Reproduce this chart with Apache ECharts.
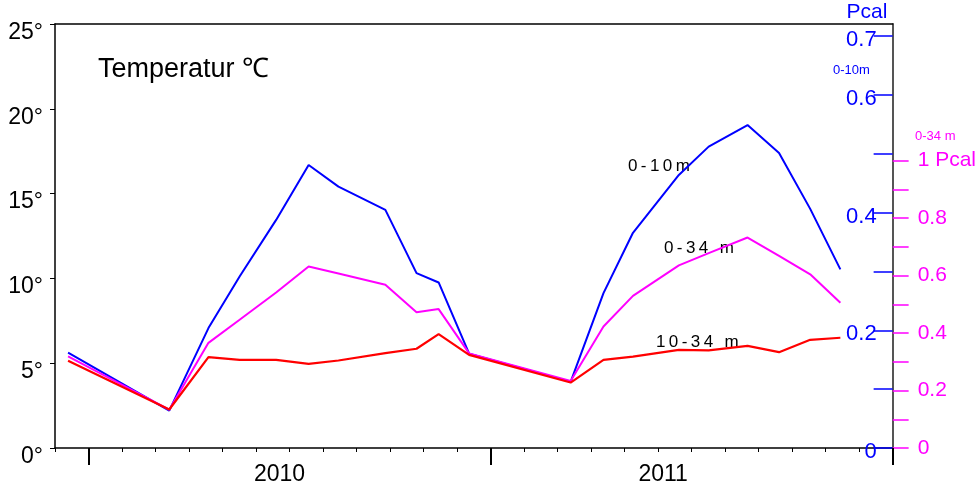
<!DOCTYPE html>
<html>
<head>
<meta charset="utf-8">
<script src="https://cdn.jsdelivr.net/npm/echarts@6/dist/echarts.min.js"></script>
<style>
  html, body { margin: 0; padding: 0; background: #fff; }
  #chart { width: 979px; height: 488px; }
</style>
</head>
<body>
<div id="chart"></div>
<script>
// Sampling dates, in months counted from the start of January 2010
const sampleMonth = [-0.61, 2.41, 3.58, 4.51, 5.60, 6.57, 7.46, 8.86, 9.79, 10.45, 11.36,
                     14.39, 15.37, 16.25, 17.62, 18.51, 19.67, 20.61, 21.54, 22.44];

// Mean water temperature (°C) per depth layer
const temp0to10  = [5.63, 2.20, 7.07, 10.11, 13.45, 16.69, 15.41, 14.04, 10.31, 9.76, 5.56,
                    3.90, 9.13, 12.69, 16.10, 17.77, 19.04, 17.40, 14.10, 10.53];
const temp0to34  = [5.40, 2.26, 6.20, 7.56, 9.17, 10.70, 10.29, 9.62, 8.01, 8.19, 5.58,
                    3.95, 7.16, 8.97, 10.77, 11.49, 12.41, 11.33, 10.24, 8.56];
const temp10to34 = [5.14, 2.27, 5.36, 5.20, 5.20, 4.96, 5.16, 5.59, 5.85, 6.71, 5.49,
                    3.86, 5.20, 5.39, 5.79, 5.76, 6.02, 5.65, 6.38, 6.50];

// Axis ticks and labels
const tempTicks = [0, 5, 10, 15, 20, 25];
const yearLabels = ['2010', '2011'];
const yearTicks = [0, 12, 24];
const pcal10Ticks = [0, 0.1, 0.2, 0.3, 0.4, 0.5, 0.6, 0.7];
const pcal10Labels = [0, 0.2, 0.4, 0.6, 0.7];
const pcal34Ticks = [0, 0.1, 0.2, 0.3, 0.4, 0.5, 0.6, 0.7, 0.8, 0.9, 1];
const pcal34Labels = [0, 0.2, 0.4, 0.6, 0.8, 1];

const FONT = '"Liberation Sans", Arial, sans-serif';
const BLUE = '#0000ff', PINK = '#ff00ff', RED = '#ff0000';

const pairs = (ys) => sampleMonth.map((m, i) => [m, ys[i]]);

const chart = echarts.init(document.getElementById('chart'), null, { renderer: 'canvas' });

chart.setOption({
  animation: false,
  backgroundColor: '#fff',
  grid: { left: 55, right: 83, top: 24, bottom: 40, containLabel: false },
  xAxis: [
    { // monthly ticks
      type: 'value', min: -1, max: 24, interval: 1, position: 'bottom',
      axisLine: { onZero: false, lineStyle: { color: '#000', width: 1.5 } },
      axisTick: { length: 4, lineStyle: { color: '#000', width: 1 } },
      axisLabel: { show: false },
      splitLine: { show: false }
    },
    { // year boundaries and year names
      type: 'value', min: -1, max: 24, position: 'bottom',
      axisLine: { show: false, onZero: false },
      axisTick: { customValues: yearTicks, length: 17, lineStyle: { color: '#000', width: 2 } },
      axisLabel: {
        customValues: [5.7, 17.15], margin: 15,
        formatter: (v) => yearLabels[v < 12 ? 0 : 1],
        fontFamily: FONT, fontSize: 23, color: '#000'
      },
      splitLine: { show: false }
    },
    { // top frame
      type: 'value', min: -1, max: 24, position: 'top',
      axisLine: { onZero: false, lineStyle: { color: '#000', width: 1.5 } },
      axisTick: { show: false }, axisLabel: { show: false }, splitLine: { show: false }
    }
  ],
  yAxis: [
    { // temperature
      type: 'value', min: 0, max: 25, interval: 5, position: 'left',
      axisLine: { show: true, onZero: false, lineStyle: { color: '#000', width: 1.5 } },
      axisTick: { show: true, length: 5, lineStyle: { color: '#000', width: 1 } },
      axisLabel: {
        customValues: tempTicks, margin: 12, formatter: '{value}°',
        fontFamily: FONT, fontSize: 23, color: '#000',
        verticalAlign: 'top', lineHeight: 17
      },
      splitLine: { show: false }
    },
    { // Pcal 0-10 m
      type: 'value', min: 0, max: 0.7204, position: 'right',
      axisLine: { show: false, onZero: false },
      axisTick: { show: true, inside: true, length: 19, customValues: pcal10Ticks,
                  lineStyle: { color: BLUE, width: 1.5 } },
      axisLabel: {
        inside: true, margin: 16, customValues: pcal10Labels,
        formatter: (v) => String(v),
        fontFamily: FONT, fontSize: 22, color: BLUE,
        verticalAlign: 'top', lineHeight: 8
      },
      splitLine: { show: false }
    },
    { // Pcal 0-34 m
      type: 'value', min: 0, max: 1.4748, position: 'right',
      axisLine: { show: true, onZero: false, lineStyle: { color: '#555', width: 2 } },
      axisTick: { show: true, length: 16, customValues: pcal34Ticks,
                  lineStyle: { color: PINK, width: 1.5 } },
      axisLabel: {
        margin: 25, customValues: pcal34Labels,
        formatter: (v) => (v === 1 ? '1 Pcal' : String(v)),
        fontFamily: FONT, fontSize: 21, color: PINK
      },
      splitLine: { show: false }
    }
  ],
  series: [
    { name: '0-10m', type: 'line', data: pairs(temp0to10), showSymbol: false,
      lineStyle: { color: BLUE, width: 2 }, xAxisIndex: 0, yAxisIndex: 0, z: 3 },
    { name: '0-34 m', type: 'line', data: pairs(temp0to34), showSymbol: false,
      lineStyle: { color: PINK, width: 2 }, xAxisIndex: 0, yAxisIndex: 0, z: 4 },
    { name: '10-34 m', type: 'line', data: pairs(temp10to34), showSymbol: false,
      lineStyle: { color: RED, width: 2.2 }, xAxisIndex: 0, yAxisIndex: 0, z: 5 }
  ],
  graphic: [
    { type: 'text', x: 98, y: 70, style: { text: 'Temperatur \u2103', fontFamily: FONT, fontSize: 27,
      fill: '#000', align: 'left', verticalAlign: 'middle' } },
    { type: 'text', x: 867, y: 12, style: { text: 'Pcal', fontFamily: FONT, fontSize: 21,
      fill: BLUE, align: 'center', verticalAlign: 'middle' } },
    { type: 'text', x: 833, y: 70, style: { text: '0-10m', fontFamily: FONT, fontSize: 13,
      fill: BLUE, align: 'left', verticalAlign: 'middle' } },
    { type: 'text', x: 915, y: 136, style: { text: '0-34 m', fontFamily: FONT, fontSize: 13,
      fill: PINK, align: 'left', verticalAlign: 'middle' } },
    { type: 'text', x: 628, y: 166, style: { text: '0\u2009-\u20091\u20090\u2009m', fontFamily: FONT,
      fontSize: 17, fill: '#000', align: 'left', verticalAlign: 'middle' } },
    { type: 'text', x: 664, y: 248, style: { text: '0\u2009-\u20093\u20094\u2009 \u2009m', fontFamily: FONT,
      fontSize: 17, fill: '#000', align: 'left', verticalAlign: 'middle' } },
    { type: 'text', x: 656, y: 342, style: { text: '1\u20090\u2009-\u20093\u20094\u2009 \u2009m', fontFamily: FONT,
      fontSize: 17, fill: '#000', align: 'left', verticalAlign: 'middle' } }
  ]
});
</script>
</body>
</html>
